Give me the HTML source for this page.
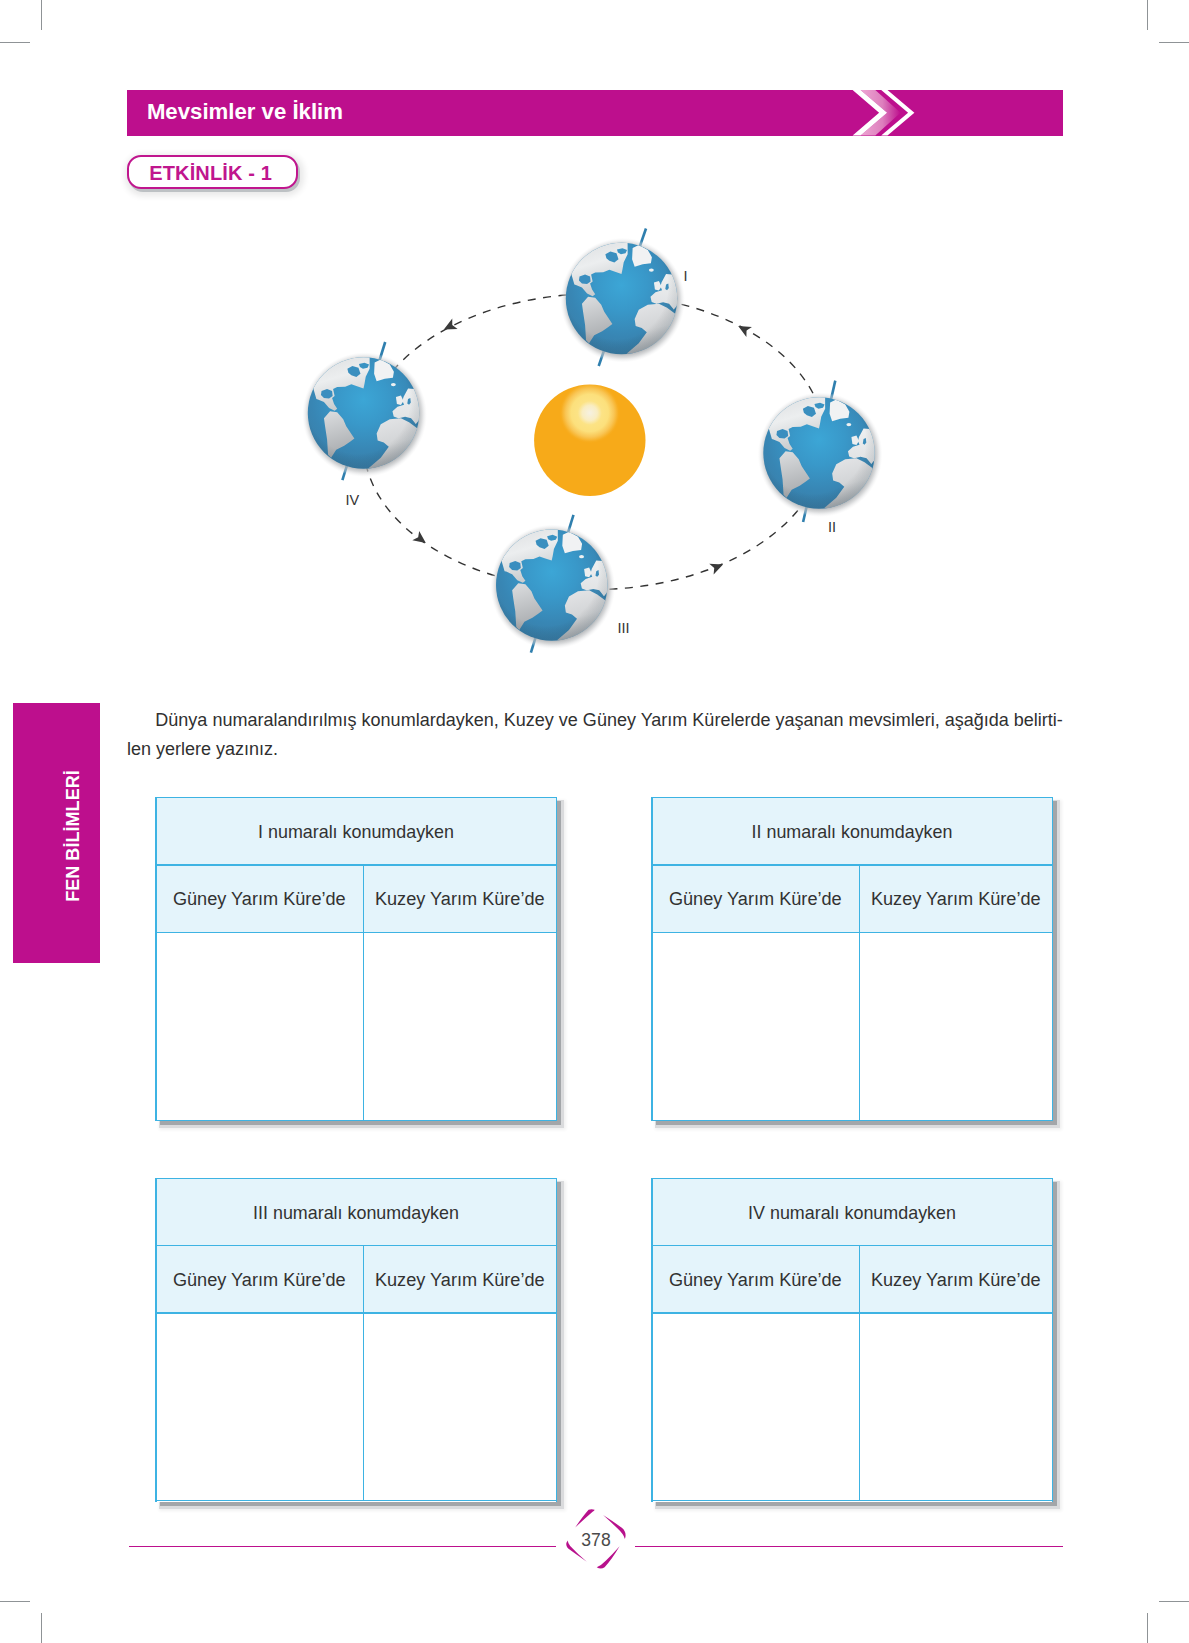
<!DOCTYPE html>
<html><head><meta charset="utf-8">
<style>
html,body{margin:0;padding:0;background:#fff;}
body{width:1189px;height:1643px;position:relative;overflow:hidden;font-family:"Liberation Sans",sans-serif;color:#2b2b2b;}
.abs{position:absolute;}
.mark{position:absolute;background:#8f9396;}
.bar{left:127px;top:90px;width:935.5px;height:45.5px;background:#BD0F8D;}
.bar-t{left:146.9px;top:99.3px;font-size:22.2px;font-weight:700;color:#fff;white-space:nowrap;line-height:26px;}
.pill{left:127px;top:155px;width:167.4px;height:30px;border:2px solid #C0168E;border-radius:14px;background:#fff;box-shadow:2px 3px 0 #bdc1c4, 2px 3px 6px 4px rgba(0,0,0,0.09);}
.pill-t{left:149.2px;top:161.6px;font-size:20px;font-weight:700;color:#C0168E;letter-spacing:0.15px;white-space:nowrap;line-height:22px;}
.tab{left:13px;top:703px;width:87px;height:260px;background:#BD0F8D;}
.tab-t{left:72.5px;top:835.5px;transform:translate(-50%,-50%) rotate(-90deg);font-size:18.1px;font-weight:700;color:#fff;white-space:nowrap;line-height:20px;}
.para{font-size:18px;white-space:nowrap;line-height:20px;color:#303030;}
.tbl{position:absolute;width:401px;height:324px;box-shadow:4px 4px 0 #a3a6a9, 5px 5px 0 2px #dadbdd, 6px 6px 3px 3px rgba(0,0,0,0.06);background:#fff;}
.tbl .b{position:absolute;background:#3DB3E3;}
.tbl .hd{position:absolute;left:0;top:0;width:401px;height:135.5px;background:#E4F4FB;}
.tbl .tx{position:absolute;font-size:18.15px;white-space:nowrap;line-height:20px;color:#323232;transform:translateX(-50%);}
.foot{position:absolute;top:1546px;height:1.3px;background:#BD0F8D;}
</style></head>
<body>
<!-- crop marks -->
<div class="mark" style="left:41px;top:0;width:1.2px;height:30px"></div>
<div class="mark" style="left:0;top:41.5px;width:30px;height:1.2px"></div>
<div class="mark" style="left:1147px;top:0;width:1.2px;height:30px"></div>
<div class="mark" style="left:1159px;top:41.5px;width:30px;height:1.2px"></div>
<div class="mark" style="left:0;top:1600.5px;width:30px;height:1.2px"></div>
<div class="mark" style="left:41px;top:1613px;width:1.2px;height:30px"></div>
<div class="mark" style="left:1159px;top:1600.5px;width:30px;height:1.2px"></div>
<div class="mark" style="left:1147px;top:1613px;width:1.2px;height:30px"></div>

<!-- header bar -->
<div class="abs bar"></div>
<div class="abs bar-t">Mevsimler ve İklim</div>
<svg class="abs" style="left:0;top:0" width="1189" height="200">
  <defs>
    <linearGradient id="chevg" x1="0" x2="1" y1="0" y2="0">
      <stop offset="0" stop-color="#eea6d3"/>
      <stop offset="0.55" stop-color="#dd7fbd"/>
      <stop offset="1" stop-color="#BD0F8D"/>
    </linearGradient>
  </defs>
  <polygon points="860.6,90 875.3,90 900.5,112.75 875.3,135.5 860.6,135.5 887.1,112.75" fill="url(#chevg)"/>
  <polygon points="852.6,90 860.6,90 887.1,112.75 860.6,135.5 852.6,135.5 879.1,112.75" fill="#fff"/>
  <polygon points="881.2,90 887.5,90 914.4,112.75 887.5,135.5 881.2,135.5 908.1,112.75" fill="#fff"/>
</svg>

<!-- etkinlik pill -->
<div class="abs pill"></div>
<div class="abs pill-t">ETKİNLİK - 1</div>

<!-- side tab -->
<div class="abs tab"></div>
<div class="abs tab-t">FEN BİLİMLERİ</div>

<!-- DIAGRAM -->
<svg class="abs" style="left:0;top:0" width="1189" height="700" viewBox="0 0 1189 700">
<defs>
  <radialGradient id="ocean" cx="0.5" cy="0.38" r="0.66">
    <stop offset="0" stop-color="#3ca6d6"/>
    <stop offset="0.35" stop-color="#3998c9"/>
    <stop offset="0.7" stop-color="#3886b4"/>
    <stop offset="1" stop-color="#3a7da6"/>
  </radialGradient>
  <radialGradient id="halo" cx="0.5" cy="0.5" r="0.5">
    <stop offset="0.87" stop-color="#a9acaf" stop-opacity="0.8"/>
    <stop offset="0.92" stop-color="#c2c4c6" stop-opacity="0.6"/>
    <stop offset="0.96" stop-color="#dcdddf" stop-opacity="0.35"/>
    <stop offset="1" stop-color="#eeeeee" stop-opacity="0"/>
  </radialGradient>
  <radialGradient id="shade" cx="0.45" cy="0.4" r="0.62">
    <stop offset="0.75" stop-color="#000" stop-opacity="0"/>
    <stop offset="1" stop-color="#1d3f55" stop-opacity="0.18"/>
  </radialGradient>
  <linearGradient id="landN" x1="0" y1="0" x2="0.3" y2="1">
    <stop offset="0" stop-color="#d9dbdd"/>
    <stop offset="0.5" stop-color="#eceeef"/>
    <stop offset="1" stop-color="#c9ccce"/>
  </linearGradient>
  <linearGradient id="landS" x1="0" y1="0" x2="0.2" y2="1">
    <stop offset="0" stop-color="#dcdee0"/>
    <stop offset="1" stop-color="#a9acaf"/>
  </linearGradient>
  <linearGradient id="landE" x1="0" y1="0" x2="0" y2="1">
    <stop offset="0" stop-color="#eef0f1"/>
    <stop offset="1" stop-color="#dfe1e3"/>
  </linearGradient>
  <linearGradient id="landA" x1="0" y1="0" x2="0.3" y2="1">
    <stop offset="0" stop-color="#e6e7e9"/>
    <stop offset="0.6" stop-color="#d2d4d6"/>
    <stop offset="1" stop-color="#a7aaad"/>
  </linearGradient>
  <clipPath id="gclip"><circle cx="50" cy="50" r="50"/></clipPath>
  <radialGradient id="sun" cx="0.5" cy="0.255" r="0.27" fx="0.5" fy="0.255">
    <stop offset="0" stop-color="#f6f1e2"/>
    <stop offset="0.25" stop-color="#f9edc2"/>
    <stop offset="0.4" stop-color="#fce385"/>
    <stop offset="0.62" stop-color="#fce07c"/>
    <stop offset="0.8" stop-color="#f9c656"/>
    <stop offset="0.95" stop-color="#f7ad20"/>
    <stop offset="1" stop-color="#f7aa19"/>
  </radialGradient>
  
<symbol id="globe" viewBox="0 0 100 100" overflow="visible">
  <circle cx="51" cy="51.5" r="56" fill="url(#halo)"/>
  <circle cx="50" cy="50" r="50" fill="url(#ocean)"/>
  <g clip-path="url(#gclip)">
    <polygon points="7.7,37.5 4.5,26.5 10.0,13.8 20.9,4.7 34.5,-1.6 45.5,-3.5 55.5,-3.5 55.5,10.2 52.0,17.5 50.9,23.8 50.0,27.9 43.6,25.8 39.1,24.3 33.6,26.5 26.4,26.7 22.7,28.5 24.1,34.7 21.8,36.5 23.6,42.0 26.4,46.1 24.1,47.9 19.1,45.6 14.5,40.2 9.1,37.9" fill="url(#landN)"/>
    <polygon points="12.3,30.2 17.3,28.4 21.8,30.2 22.3,34.7 19.1,37.0 14.5,36.5 11.8,33.8" fill="#3a8ebf"/>
    <polygon points="35.5,10.2 40.0,7.9 45.5,9.3 47.3,14.7 43.6,17.6 39.1,16.1 36.4,13.8" fill="#3a8fbf"/>
    <polygon points="45.9,6.1 50.9,4.9 55.0,6.5 53.6,9.3 49.5,10.2 46.8,8.8" fill="#3a93c3"/>
    <polygon points="60.0,4.7 65.5,2.0 73.6,6.5 77.3,12.9 76.4,18.4 69.1,19.3 61.8,21.5 59.5,14.7" fill="#f1f2f3"/>
    <ellipse cx="76.8" cy="24.5" rx="2.2" ry="1.5" fill="#eef0f1"/>
    <polygon points="14.5,54.7 20.0,48.4 26.4,49.3 31.8,55.6 34.5,62.0 41.8,72.9 38.2,75.6 32.7,79.3 25.5,82.9 20.9,90.2 18.2,87.5 17.3,73.8 15.5,62.0" fill="url(#landS)"/>
    <polygon points="85.9,35.6 90.0,27.9 95.5,28.4 98.6,34.7 100.5,43.8 100.5,55.6 96.8,60.2 92.7,56.7 87.3,54.9 81.8,54.9 77.1,53.1 76.0,48.4 80.5,44.5 86.4,42.5 85.0,39.3" fill="url(#landE)"/>
    <polygon points="79.1,35.6 83.6,34.3 85.9,39.3 83.6,42.9 80.0,42.0" fill="#eceeef"/>
    <polygon points="90.0,37.5 92.0,36.5 92.5,40.6 90.9,42.5 89.3,41.5" fill="#3b8cba"/>
    <polygon points="81.8,54.7 87.3,53.4 92.7,54.7 96.4,59.3 98.2,63.8 94.5,66.5 89.1,62.9 83.6,59.3" fill="#3b86b2"/>
    <polygon points="61.8,68.4 65.5,60.2 73.6,55.6 83.6,54.7 90.9,58.4 98.2,63.8 100.5,73.8 97.3,83.8 90.0,91.1 80.0,96.5 67.3,99.7 54.5,99.7 65.5,90.2 72.7,80.2 68.2,76.5 62.7,74.7" fill="url(#landA)"/>
    <circle cx="50" cy="50" r="50" fill="url(#shade)"/>
  </g>
</symbol>
</defs><ellipse transform="rotate(-0.5 594.3 441.7)" cx="594.3" cy="441.7" rx="230.8" ry="147.9" fill="none" stroke="#333" stroke-width="1.4" stroke-dasharray="8 7.5"/><path transform="translate(449.6,326.5) rotate(152.7)" d="M6.5,0 L-6,-5.8 L-3,0 L-6,5.8 Z" fill="#3a3a3a"/><path transform="translate(420.6,539.1) rotate(36.2)" d="M6.5,0 L-6,-5.8 L-3,0 L-6,5.8 Z" fill="#3a3a3a"/><path transform="translate(717.0,567.0) rotate(-21.9)" d="M6.5,0 L-6,-5.8 L-3,0 L-6,5.8 Z" fill="#3a3a3a"/><path transform="translate(743.9,329.1) rotate(-151.4)" d="M6.5,0 L-6,-5.8 L-3,0 L-6,5.8 Z" fill="#3a3a3a"/><circle cx="589.8" cy="440.2" r="55.7" fill="url(#sun)"/><line x1="646" y1="228.5" x2="598.7" y2="366" stroke="#2f7fae" stroke-width="2.6"/><use href="#globe" x="565.8" y="242.8" width="111.4" height="111.4"/><line x1="835.3" y1="380.6" x2="803.1" y2="522" stroke="#2f7fae" stroke-width="2.6"/><use href="#globe" x="763.3" y="397.3" width="111.4" height="111.4"/><line x1="573.5" y1="514.8" x2="530.9" y2="652.7" stroke="#2f7fae" stroke-width="2.6"/><use href="#globe" x="496.0" y="529.4" width="111.4" height="111.4"/><line x1="385.2" y1="342" x2="342.4" y2="480.1" stroke="#2f7fae" stroke-width="2.6"/><use href="#globe" x="307.8" y="357.3" width="111.4" height="111.4"/>
<text x="683.5" y="281" font-family="Liberation Sans" font-size="14.5" fill="#333">I</text>
<text x="828" y="532" font-family="Liberation Sans" font-size="14.5" fill="#333">II</text>
<text x="617.5" y="633.2" font-family="Liberation Sans" font-size="14.5" fill="#333">III</text>
<text x="345.5" y="505.3" font-family="Liberation Sans" font-size="14.5" fill="#333">IV</text>
</svg>

<!-- paragraph -->
<div class="abs para" style="left:155.3px;top:710.2px;font-size:18.02px">Dünya numaralandırılmış konumlardayken, Kuzey ve Güney Yarım Kürelerde yaşanan mevsimleri, aşağıda belirti-</div>
<div class="abs para" style="left:127px;top:738.8px">len yerlere yazınız.</div>

<!-- TABLES -->
<div class="tbl" style="left:155.5px;top:797px">
  <div class="hd"></div>
  <div class="b" style="left:0;top:0;width:401px;height:1.3px"></div>
  <div class="b" style="left:0;top:322.7px;width:401px;height:1.3px"></div>
  <div class="b" style="left:-0.3px;top:0;width:1.3px;height:324px"></div>
  <div class="b" style="left:400px;top:0;width:1.3px;height:324px"></div>
  <div class="b" style="left:0;top:67.4px;width:401px;height:1.3px"></div>
  <div class="b" style="left:0;top:134.9px;width:401px;height:1.3px"></div>
  <div class="b" style="left:207px;top:67.4px;width:1.3px;height:256px"></div>
  <div class="tx" style="left:200.5px;top:25px;font-size:17.9px">I numaralı konumdayken</div>
  <div class="tx" style="left:103.8px;top:92.4px">Güney Yarım Küre’de</div>
  <div class="tx" style="left:304.3px;top:92.4px">Kuzey Yarım Küre’de</div>
</div>
<div class="tbl" style="left:651.5px;top:797px">
  <div class="hd"></div>
  <div class="b" style="left:0;top:0;width:401px;height:1.3px"></div>
  <div class="b" style="left:0;top:322.7px;width:401px;height:1.3px"></div>
  <div class="b" style="left:-0.3px;top:0;width:1.3px;height:324px"></div>
  <div class="b" style="left:400px;top:0;width:1.3px;height:324px"></div>
  <div class="b" style="left:0;top:67.4px;width:401px;height:1.3px"></div>
  <div class="b" style="left:0;top:134.9px;width:401px;height:1.3px"></div>
  <div class="b" style="left:207px;top:67.4px;width:1.3px;height:256px"></div>
  <div class="tx" style="left:200.5px;top:25px;font-size:17.9px">II numaralı konumdayken</div>
  <div class="tx" style="left:103.8px;top:92.4px">Güney Yarım Küre’de</div>
  <div class="tx" style="left:304.3px;top:92.4px">Kuzey Yarım Küre’de</div>
</div>
<div class="tbl" style="left:155.5px;top:1177.5px">
  <div class="hd"></div>
  <div class="b" style="left:0;top:0;width:401px;height:1.3px"></div>
  <div class="b" style="left:0;top:322.7px;width:401px;height:1.3px"></div>
  <div class="b" style="left:-0.3px;top:0;width:1.3px;height:324px"></div>
  <div class="b" style="left:400px;top:0;width:1.3px;height:324px"></div>
  <div class="b" style="left:0;top:67.4px;width:401px;height:1.3px"></div>
  <div class="b" style="left:0;top:134.9px;width:401px;height:1.3px"></div>
  <div class="b" style="left:207px;top:67.4px;width:1.3px;height:256px"></div>
  <div class="tx" style="left:200.5px;top:25px;font-size:17.9px">III numaralı konumdayken</div>
  <div class="tx" style="left:103.8px;top:92.4px">Güney Yarım Küre’de</div>
  <div class="tx" style="left:304.3px;top:92.4px">Kuzey Yarım Küre’de</div>
</div>
<div class="tbl" style="left:651.5px;top:1177.5px">
  <div class="hd"></div>
  <div class="b" style="left:0;top:0;width:401px;height:1.3px"></div>
  <div class="b" style="left:0;top:322.7px;width:401px;height:1.3px"></div>
  <div class="b" style="left:-0.3px;top:0;width:1.3px;height:324px"></div>
  <div class="b" style="left:400px;top:0;width:1.3px;height:324px"></div>
  <div class="b" style="left:0;top:67.4px;width:401px;height:1.3px"></div>
  <div class="b" style="left:0;top:134.9px;width:401px;height:1.3px"></div>
  <div class="b" style="left:207px;top:67.4px;width:1.3px;height:256px"></div>
  <div class="tx" style="left:200.5px;top:25px;font-size:17.9px">IV numaralı konumdayken</div>
  <div class="tx" style="left:103.8px;top:92.4px">Güney Yarım Küre’de</div>
  <div class="tx" style="left:304.3px;top:92.4px">Kuzey Yarım Küre’de</div>
</div>

<!-- footer -->
<div class="foot" style="left:129px;width:427px"></div>
<div class="foot" style="left:635px;width:427.5px"></div>
<svg class="abs" style="left:550px;top:1495px" width="90" height="90" viewBox="550 1495 90 90">
<g fill="#B8118C">
<path d="M594.6,1509.8 Q591.5,1508.6 588.6,1509.8 Q583.2,1515.8 575.2,1527.4 Q584.8,1518.6 592.6,1511.8 Q594.6,1511 594.6,1509.8 Z"/>
<path d="M603.1,1515.0 Q614.5,1522.3 621.8,1527.8 Q627.2,1532.2 624.9,1539.0 Q623.5,1534.0 617.6,1528.6 Q611.5,1522.5 603.1,1515.0 Z"/>
<path d="M567.8,1540.6 Q564.6,1544.6 568.2,1548.6 Q575.8,1554.2 586.8,1561.8 Q577.2,1553.4 570.2,1545.9 Q567.8,1543.4 567.8,1540.6 Z"/>
<path d="M596.7,1567.2 Q600.8,1569.8 604.6,1567.2 Q611.8,1559.4 619.6,1546.2 Q612.2,1554.6 606.0,1560.4 Q601.6,1565.0 596.7,1567.2 Z"/>
</g></svg>
<div class="abs" style="left:570px;top:1530.3px;width:52px;text-align:center;font-size:17.6px;color:#4a4a4a;line-height:20px">378</div>
</body></html>
